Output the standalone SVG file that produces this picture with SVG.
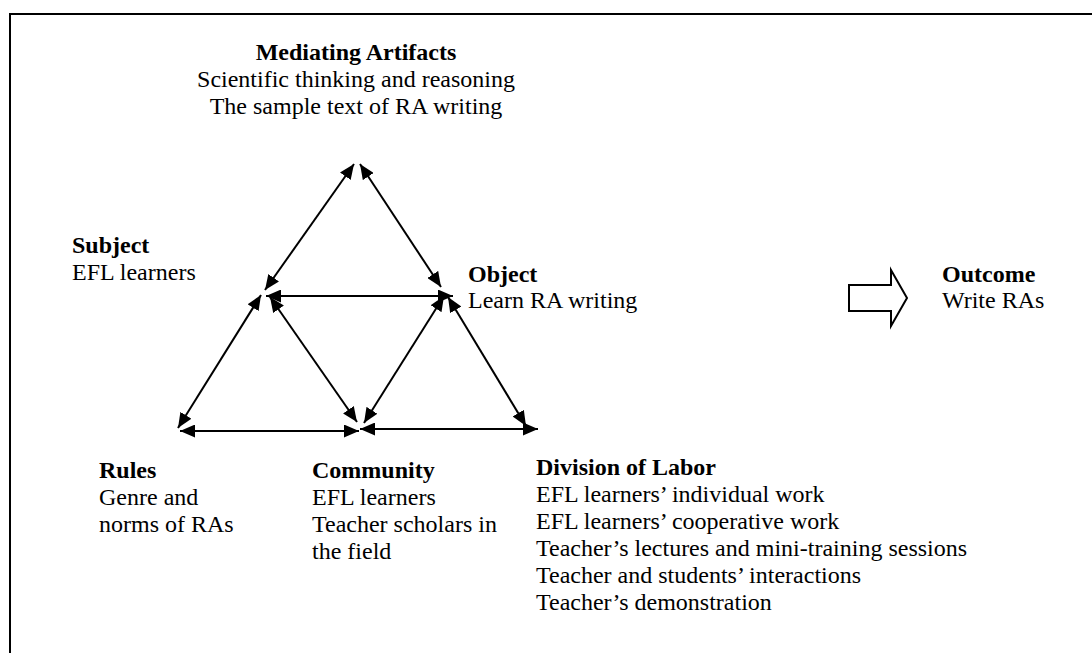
<svg xmlns="http://www.w3.org/2000/svg" width="1092" height="653" viewBox="0 0 1092 653">
<style>
text{font-family:"Liberation Serif","Times New Roman",serif;font-size:24px;fill:#000}
.b{font-weight:bold}
.c line{stroke:#000;stroke-width:2;marker-start:url(#ah);marker-end:url(#ah)}
</style>
<defs>
<marker id="ah" viewBox="0 0 15 13" refX="15" refY="6.5" markerWidth="15" markerHeight="13" markerUnits="userSpaceOnUse" orient="auto-start-reverse">
<path d="M0,0 L15,6.5 L0,13 z" fill="#000"/>
</marker>
</defs>
<rect x="0" y="0" width="1092" height="653" fill="#fff"/>
<rect x="10" y="14" width="1100" height="660" fill="none" stroke="#000" stroke-width="2"/>
<g id="connectors" class="c">
<line x1="354" y1="164" x2="265" y2="290"/>
<line x1="360" y1="164" x2="441" y2="287"/>
<line x1="266" y1="296" x2="453" y2="296"/>
<line x1="261" y1="295" x2="178" y2="428"/>
<line x1="270" y1="297" x2="357" y2="422"/>
<line x1="444" y1="296" x2="364" y2="423"/>
<line x1="448" y1="297" x2="526" y2="426"/>
<line x1="180" y1="431" x2="359" y2="431"/>
<line x1="360" y1="429" x2="538" y2="429"/>
</g>
<g id="mediating">
<text class="b" x="356" y="60" text-anchor="middle">Mediating Artifacts</text>
<text x="356" y="87" text-anchor="middle">Scientific thinking and reasoning</text>
<text x="356" y="114" text-anchor="middle">The sample text of RA writing</text>
</g>
<g id="subject">
<text class="b" x="72" y="253">Subject</text>
<text x="72" y="280">EFL learners</text>
</g>
<g id="object">
<text class="b" x="468" y="282">Object</text>
<text x="468" y="308">Learn RA writing</text>
</g>
<g id="outcome-arrow">
<path d="M849,285 L891,285 L891,270 L907,298 L891,326 L891,311 L849,311 Z" fill="#fff" stroke="#000" stroke-width="2"/>
</g>
<g id="outcome">
<text class="b" x="942" y="282">Outcome</text>
<text x="942" y="308">Write RAs</text>
</g>
<g id="rules">
<text class="b" x="99" y="478">Rules</text>
<text x="99" y="505">Genre and</text>
<text x="99" y="532">norms of RAs</text>
</g>
<g id="community">
<text class="b" x="312" y="478">Community</text>
<text x="312" y="505">EFL learners</text>
<text x="312" y="532">Teacher scholars in</text>
<text x="312" y="559">the field</text>
</g>
<g id="division">
<text class="b" x="536" y="475">Division of Labor</text>
<text x="536" y="502">EFL learners’ individual work</text>
<text x="536" y="529">EFL learners’ cooperative work</text>
<text x="536" y="556">Teacher’s lectures and mini-training sessions</text>
<text x="536" y="583">Teacher and students’ interactions</text>
<text x="536" y="610">Teacher’s demonstration</text>
</g>
</svg>
